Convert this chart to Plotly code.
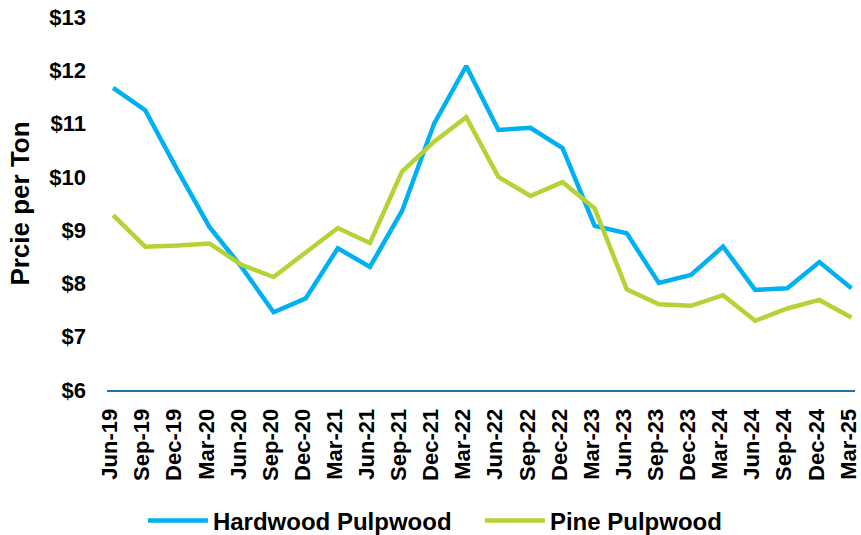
import plotly.graph_objects as go

quarters = ["Jun-19", "Sep-19", "Dec-19", "Mar-20", "Jun-20", "Sep-20", "Dec-20", "Mar-21",
            "Jun-21", "Sep-21", "Dec-21", "Mar-22", "Jun-22", "Sep-22", "Dec-22", "Mar-23",
            "Jun-23", "Sep-23", "Dec-23", "Mar-24", "Jun-24", "Sep-24", "Dec-24", "Mar-25"]

hardwood = [11.67, 11.25, 10.13, 9.06, 8.31, 7.46, 7.72, 8.66,
            8.31, 9.36, 11.00, 12.08, 10.88, 10.92, 10.54, 9.08,
            8.94, 8.01, 8.16, 8.69, 7.88, 7.91, 8.40, 7.91]

pine = [9.28, 8.69, 8.71, 8.75, 8.35, 8.12, 8.58, 9.04,
        8.76, 10.10, 10.66, 11.12, 10.00, 9.64, 9.90, 9.41,
        7.89, 7.61, 7.58, 7.78, 7.30, 7.53, 7.69, 7.36]

y_ticks = [6, 7, 8, 9, 10, 11, 12, 13]
y_tick_text = ["$" + str(v) for v in y_ticks]

FONT = "Liberation Sans, Arial, sans-serif"

fig = go.Figure()
fig.add_trace(go.Scatter(x=quarters, y=hardwood, mode="lines", name="Hardwood Pulpwood",
                         line=dict(color="#00B0F0", width=4.5)))
fig.add_trace(go.Scatter(x=quarters, y=pine, mode="lines", name="Pine Pulpwood",
                         line=dict(color="#B4D335", width=4.5)))

fig.update_layout(
    width=861, height=535,
    margin=dict(l=107, r=6, t=17, b=145, autoexpand=False),
    paper_bgcolor="white", plot_bgcolor="white",
    font=dict(family=FONT, color="black"),
    showlegend=True,
    legend=dict(orientation="h", x=0.048, xanchor="left", y=-0.351, yanchor="middle",
                font=dict(size=24, family=FONT, color="black", weight="bold"),
                itemwidth=60, entrywidth=262, entrywidthmode="pixels", tracegroupgap=0),
    xaxis=dict(type="category", range=[-0.19, 23.11], tickangle=-90, automargin=False,
               tickfont=dict(size=22, family=FONT, color="black", weight="bold"),
               showgrid=False, showline=True, linecolor="#1F6FA8", linewidth=2,
               ticks="", zeroline=False, ticklabelstandoff=8, ticklabelshift=-3,
               ticklabeloverflow="allow"),
    yaxis=dict(range=[6, 13], tickvals=y_ticks, ticktext=y_tick_text, automargin=False,
               tickfont=dict(size=22, family=FONT, color="black", weight="bold"),
               showgrid=False, showline=False, zeroline=False, ticks="",
               ticklabelstandoff=20, ticklabeloverflow="allow",
               title=dict(text="Prcie per Ton", standoff=12,
                          font=dict(size=26, family=FONT, color="black", weight="bold"))),
)

fig.write_html("out.html", config={"displayModeBar": False},
               post_script="document.body.style.margin='0';document.body.style.padding='0';")
